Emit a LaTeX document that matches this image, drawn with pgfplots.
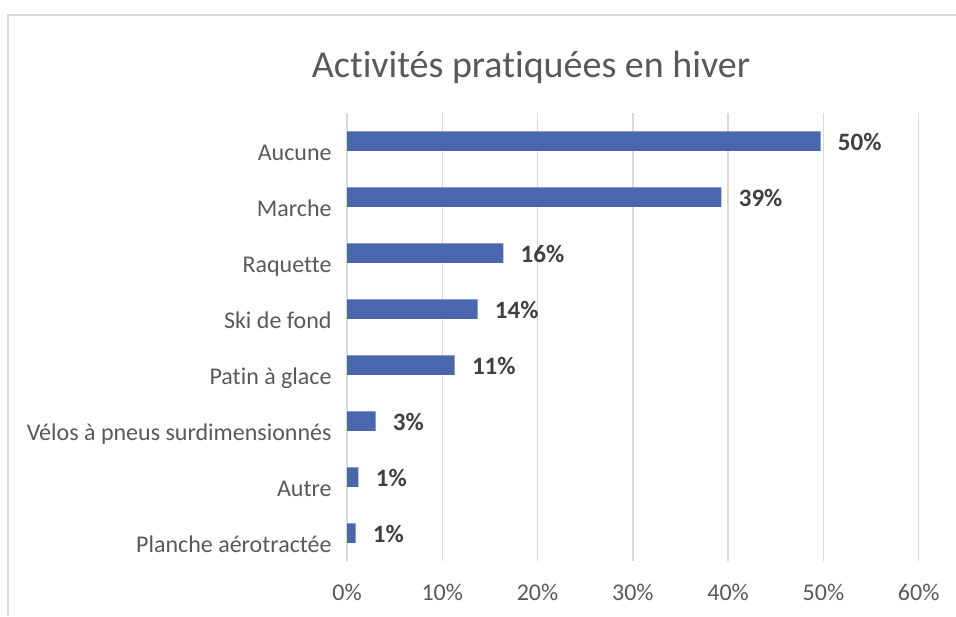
\documentclass[border=0pt]{standalone}
\usepackage{pgfplots}
\pgfplotsset{compat=1.18}
\usepackage{pgfplotstable}
\usepackage{fontspec}
\setmainfont{Carlito}[Ligatures=NoCommon]
\definecolor{barblue}{HTML}{4A67AD}
\definecolor{gridgrey}{HTML}{D9D9D9}
\definecolor{txtgrey}{HTML}{595959}
\definecolor{lblgrey}{HTML}{404040}
\pgfplotstableread{
i v lab
0 49.7 50\%
1 39.3 39\%
2 16.4 16\%
3 13.7 14\%
4 11.3 11\%
5 3.0 3\%
6 1.2 1\%
7 0.9 1\%
}\datatable
\begin{document}
\begin{tikzpicture}
\useasboundingbox (0,0) rectangle (478pt,308pt);
\draw[color=gridgrey, line width=0.75pt] (4pt,0pt) -- (4pt,300.5pt) -- (478pt,300.5pt);
\node[anchor=base, font=\fontsize{19}{22}\selectfont, text=txtgrey, inner sep=0pt] at (265.5pt,269pt) {Activités pratiquées en hiver};
\begin{axis}[
  at={(173.5pt,27.5pt)}, anchor=south west,
  scale only axis,
  width=285.85pt, height=224pt,
  xbar, bar width=9.75pt,
  xmin=0, xmax=60, ymin=-0.5, ymax=7.5,
  y dir=reverse,
  axis line style={draw=none},
  major tick length=0pt,
  xmajorgrids, grid style={color=gridgrey, line width=0.75pt},
  xtick={0,10,20,30,40,50,60},
  xticklabels={0\%,10\%,20\%,30\%,40\%,50\%,60\%},
  ytick={0,1,2,3,4,5,6,7},
  yticklabels={Aucune,Marche,Raquette,Ski de fond,Patin à glace,Vélos à pneus surdimensionnés,Autre,Planche aérotractée},
  tick label style={font=\fontsize{12}{14}\selectfont, text=txtgrey, inner sep=0pt},
  xticklabel style={anchor=base, yshift=-19.5pt},
  yticklabel style={anchor=base east, xshift=-7.5pt, yshift=-9.5pt},
  point meta=explicit symbolic,
  nodes near coords,
  nodes near coords style={anchor=west, inner sep=0pt, xshift=8.5pt, yshift=-0.6pt, font=\fontsize{12.5}{14}\selectfont\bfseries, text=lblgrey},
]
\addplot[fill=barblue, draw=none] table[x=v, y=i, meta=lab] {\datatable};
\end{axis}
\end{tikzpicture}
\end{document}
